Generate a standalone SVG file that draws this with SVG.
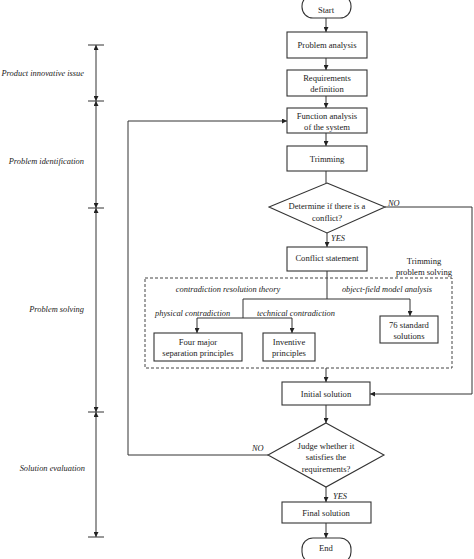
<svg xmlns="http://www.w3.org/2000/svg" width="474" height="559" viewBox="0 0 474 559">
<defs>
<marker id="ah" markerUnits="userSpaceOnUse" viewBox="0 0 6 6" refX="6" refY="3" markerWidth="5" markerHeight="5" orient="auto-start-reverse">
<path d="M0,0 L6,3 L0,6 z" fill="#222"/>
</marker>
</defs>
<style>
.box{fill:#fff;stroke:#333;stroke-width:1.1}
.ln{fill:none;stroke:#333;stroke-width:1}
.t{font-family:"Liberation Serif",serif;font-size:8.6px;fill:#222;text-anchor:middle}
.i{font-family:"Liberation Serif",serif;font-size:8.4px;font-style:italic;fill:#222}
.dash{fill:none;stroke:#444;stroke-width:1;stroke-dasharray:3,2}
</style>
<rect width="474" height="559" fill="#fff"/>

<g id="timeline">
<line class="ln" x1="96" y1="45" x2="96" y2="101" marker-start="url(#ah)" marker-end="url(#ah)"/>
<line class="ln" x1="96" y1="101" x2="96" y2="208" marker-start="url(#ah)" marker-end="url(#ah)"/>
<line class="ln" x1="96" y1="208" x2="96" y2="412" marker-start="url(#ah)" marker-end="url(#ah)"/>
<line class="ln" x1="96" y1="412" x2="96" y2="537" marker-start="url(#ah)" marker-end="url(#ah)"/>
<line class="ln" x1="88" y1="45" x2="104" y2="45"/>
<line class="ln" x1="88" y1="101" x2="104" y2="101"/>
<line class="ln" x1="88" y1="208" x2="104" y2="208"/>
<line class="ln" x1="88" y1="412" x2="104" y2="412"/>
<line class="ln" x1="88" y1="537" x2="104" y2="537"/>
<text class="i" x="84" y="76" text-anchor="end">Product innovative issue</text>
<text class="i" x="84" y="164" text-anchor="end">Problem identification</text>
<text class="i" x="84" y="312" text-anchor="end">Problem solving</text>
<text class="i" x="85" y="471" text-anchor="end">Solution evaluation</text>
</g>

<g id="connectors">
<line class="ln" x1="326" y1="18" x2="326" y2="32" marker-end="url(#ah)"/>
<line class="ln" x1="326" y1="58" x2="326" y2="70" marker-end="url(#ah)"/>
<line class="ln" x1="326" y1="96" x2="326" y2="108" marker-end="url(#ah)"/>
<line class="ln" x1="326" y1="133" x2="326" y2="146" marker-end="url(#ah)"/>
<line class="ln" x1="326" y1="171" x2="326" y2="183"/>
<line class="ln" x1="327" y1="233" x2="327" y2="247" marker-end="url(#ah)"/>
<polyline class="ln" points="385,207 472,207 472,394 370,394" marker-end="url(#ah)"/>
<line class="ln" x1="327" y1="271" x2="327" y2="299"/>
<line class="ln" x1="243" y1="299" x2="410" y2="299"/>
<line class="ln" x1="410" y1="299" x2="410" y2="316" marker-end="url(#ah)"/>
<line class="ln" x1="243" y1="299" x2="243" y2="318"/>
<line class="ln" x1="197" y1="318" x2="292" y2="318"/>
<line class="ln" x1="197" y1="318" x2="197" y2="333" marker-end="url(#ah)"/>
<line class="ln" x1="292" y1="318" x2="292" y2="333" marker-end="url(#ah)"/>
<line class="ln" x1="326" y1="368" x2="326" y2="382" marker-end="url(#ah)"/>
<line class="ln" x1="326" y1="405" x2="326" y2="423" marker-end="url(#ah)"/>
<polyline class="ln" points="268,455 128,455 128,121 287,121" marker-end="url(#ah)"/>
<line class="ln" x1="326" y1="487" x2="326" y2="502" marker-end="url(#ah)"/>
<line class="ln" x1="326" y1="523" x2="326" y2="538" marker-end="url(#ah)"/>
<text class="i" x="388" y="206">NO</text>
<text class="i" x="331" y="241">YES</text>
<text class="i" x="252" y="451">NO</text>
<text class="i" x="333" y="499">YES</text>
</g>

<g id="start">
<rect class="box" x="302" y="-5" width="49" height="23" rx="11"/>
<text class="t" x="326" y="13">Start</text>
</g>
<g id="problem-analysis">
<rect class="box" x="287" y="32" width="80" height="26"/>
<text class="t" x="327" y="48">Problem analysis</text>
</g>
<g id="requirements">
<rect class="box" x="287" y="70" width="80" height="26"/>
<text class="t" x="327" y="81">Requirements</text>
<text class="t" x="327" y="92">definition</text>
</g>
<g id="function-analysis">
<rect class="box" x="287" y="108" width="80" height="25"/>
<text class="t" x="327" y="119">Function analysis</text>
<text class="t" x="327" y="130">of the system</text>
</g>
<g id="trimming">
<rect class="box" x="287" y="146" width="80" height="25"/>
<text class="t" x="327" y="162">Trimming</text>
</g>
<g id="conflict-decision">
<polygon class="box" points="327,183 385,207 327,233 269,207"/>
<text class="t" x="327" y="209">Determine if there is a</text>
<text class="t" x="327" y="221">conflict?</text>
</g>
<g id="conflict-statement">
<rect class="box" x="287" y="247" width="80" height="24"/>
<text class="t" x="327" y="261">Conflict statement</text>
</g>
<g id="trimming-problem-solving">
<rect class="dash" x="145" y="278" width="307" height="90"/>
<text class="t" x="424" y="264">Trimming</text>
<text class="t" x="424" y="275">problem solving</text>
<text class="i" x="228" y="292" text-anchor="middle">contradiction resolution theory</text>
<text class="i" x="387" y="292" text-anchor="middle">object-field model analysis</text>
<text class="i" x="155" y="316">physical contradiction</text>
<text class="i" x="257" y="316">technical contradiction</text>
</g>
<g id="separation">
<rect class="box" x="154" y="333" width="88" height="28"/>
<text class="t" x="198" y="345">Four major</text>
<text class="t" x="198" y="356">separation principles</text>
</g>
<g id="inventive">
<rect class="box" x="263" y="333" width="52" height="28"/>
<text class="t" x="289" y="345">Inventive</text>
<text class="t" x="289" y="356">principles</text>
</g>
<g id="standard">
<rect class="box" x="380" y="316" width="58" height="27"/>
<text class="t" x="409" y="328">76 standard</text>
<text class="t" x="409" y="339">solutions</text>
</g>
<g id="initial-solution">
<rect class="box" x="282" y="382" width="88" height="23"/>
<text class="t" x="326" y="397">Initial solution</text>
</g>
<g id="judge-decision">
<polygon class="box" points="326,423 384,455 326,487 268,455"/>
<text class="t" x="326" y="449">Judge whether it</text>
<text class="t" x="326" y="460">satisfies the</text>
<text class="t" x="326" y="472">requirements?</text>
</g>
<g id="final-solution">
<rect class="box" x="282" y="502" width="89" height="21"/>
<text class="t" x="326" y="516">Final solution</text>
</g>
<g id="end">
<rect class="box" x="302" y="538" width="49" height="25" rx="11"/>
<text class="t" x="326" y="551">End</text>
</g>
</svg>
